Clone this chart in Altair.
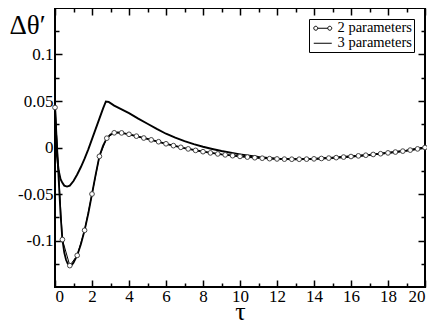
import altair as alt
import pandas as pd

SERIES_2 = "2 parameters"
SERIES_3 = "3 parameters"

# "2 parameters" series (circles)
t_circ = [0.0, 0.4, 0.8, 1.2, 1.6, 2.0, 2.4, 2.8, 3.2, 3.6, 4.0, 4.4, 4.8, 5.2, 5.6,
          6.0, 6.4, 6.8, 7.2, 7.6, 8.0, 8.4, 8.8, 9.2, 9.6, 10.0, 10.4, 10.8, 11.2,
          11.6, 12.0, 12.4, 12.8, 13.2, 13.6, 14.0, 14.4, 14.8, 15.2, 15.6, 16.0,
          16.4, 16.8, 17.2, 17.6, 18.0, 18.4, 18.8, 19.2, 19.6, 20.0]
v_circ = [0.043, -0.099, -0.127, -0.116, -0.089, -0.050, -0.0095, 0.0100, 0.0158,
          0.0157, 0.0142, 0.0122, 0.0102, 0.0082, 0.0062, 0.0040, 0.0020, 0.0002,
          -0.0015, -0.0031, -0.0045, -0.0058, -0.0069, -0.0079, -0.0088, -0.0096,
          -0.0103, -0.0110, -0.0115, -0.0120, -0.0123, -0.0125, -0.0126, -0.0126,
          -0.0125, -0.0122, -0.0118, -0.0114, -0.0109, -0.0103, -0.0097, -0.0090,
          -0.0083, -0.0075, -0.0067, -0.0058, -0.0049, -0.0039, -0.0028, -0.0015, 0.0]

# "3 parameters" upper curve
t_up = [0.0, 0.1, 0.2, 0.3, 0.4, 0.5, 0.65, 0.8, 1.0, 1.2, 1.4, 1.6, 1.8, 2.0, 2.2,
        2.4, 2.6, 2.75, 2.9, 3.2, 3.6, 4.0, 4.5, 5.0, 5.5, 6.0, 6.5, 7.0, 7.5, 8.0,
        8.5, 9.0, 9.5, 10.0, 10.5, 11.0, 11.5, 12.0, 12.5, 13.0, 14.0, 15.0, 16.0,
        17.0, 18.0, 19.0, 20.0]
v_up = [0.045, -0.008, -0.025, -0.034, -0.038, -0.041, -0.042, -0.041, -0.036,
        -0.029, -0.021, -0.012, -0.002, 0.009, 0.020, 0.031, 0.042, 0.0495, 0.049,
        0.045, 0.041, 0.037, 0.031, 0.0255, 0.020, 0.0148, 0.0105, 0.0068, 0.0036,
        0.0008, -0.0016, -0.0038, -0.0057, -0.0074, -0.0089, -0.0102, -0.0112,
        -0.0120, -0.0124, -0.0126, -0.0122, -0.0111, -0.0097, -0.0079, -0.0058,
        -0.0033, 0.0]

# "3 parameters" lower curve
t_low = [0.0, 0.1, 0.2, 0.3, 0.4, 0.5, 0.6, 0.7, 0.8, 0.9, 1.0, 1.2, 1.4, 1.6, 1.8,
         2.0, 2.2, 2.4, 2.6, 2.8, 3.0, 3.2, 3.4, 3.6, 4.0, 5.0, 6.0, 7.0, 8.0, 9.0,
         10.0, 11.0, 12.0, 13.0, 14.0, 15.0, 16.0, 17.0, 18.0, 19.0, 20.0]
v_low = [0.043, 0.005, -0.035, -0.072, -0.099, -0.113, -0.121, -0.1255, -0.127,
         -0.1265, -0.124, -0.116, -0.104, -0.089, -0.071, -0.050, -0.029, -0.0095,
         0.002, 0.010, 0.014, 0.0158, 0.0162, 0.0157, 0.0142, 0.0092, 0.0040,
         -0.0006, -0.0045, -0.0074, -0.0096, -0.0112, -0.0123, -0.0126, -0.0122,
         -0.0112, -0.0097, -0.0079, -0.0058, -0.0033, 0.0]

x_major = [0, 2, 4, 6, 8, 10, 12, 14, 16, 18, 20]
x_minor = [1, 3, 5, 7, 9, 11, 13, 15, 17, 19]
y_major = [-0.1, -0.05, 0, 0.05, 0.1]
y_minor = [-0.125, -0.075, -0.025, 0.025, 0.075, 0.125]

df_circ = pd.DataFrame({"t": t_circ, "v": v_circ, "series": SERIES_2})
df_up = pd.DataFrame({"t": t_up, "v": v_up, "series": SERIES_3})
df_low = pd.DataFrame({"t": t_low, "v": v_low, "series": SERIES_3})

FONT = "'Liberation Serif', 'DejaVu Serif', serif"
xs = alt.Scale(domain=[0, 20], nice=False, zero=False)
ys = alt.Scale(domain=[-0.15, 0.15], nice=False, zero=False)

MAJ, MIN = 7, 4


def axis(orient, values, size, labels=False, **kw):
    return alt.Axis(orient=orient, values=values, tickSize=size, offset=-size,
                    labels=labels, domain=False, grid=False, ticks=True,
                    tickColor="black", tickWidth=1.5, **kw)


ax_bottom = axis("bottom", x_major, MAJ, labels=True, format="d",
                 labelFont=FONT, labelFontSize=17, labelPadding=1, labelColor="black",
                 title="τ", titleFont=FONT, titleFontSize=26, titleFontWeight="normal",
                 titleColor="black", titleBaseline="alphabetic", titleY=39)
ax_left = axis("left", y_major, MAJ, labels=True,
               labelExpr="datum.value < 0 ? '-' + format(-datum.value, '.2~f') : format(datum.value, '.2~f')",
               labelFont=FONT, labelFontSize=17, labelPadding=2, labelColor="black",
               title="Δθ′", titleFont=FONT, titleFontSize=27, titleFontWeight="normal",
               titleColor="black", titleAngle=0, titleAlign="left",
               titleBaseline="alphabetic", titleX=-53, titleY=25)

SYM2 = ("M-0.111,0A0.444,0.444 0 1,0 -1,0A0.444,0.444 0 1,0 -0.111,0"
        "M-0.111,0L2.111,0"
        "M3,0A0.444,0.444 0 1,0 2.111,0A0.444,0.444 0 1,0 3,0")
SYM3 = "M-1,0L3,0"

color = alt.Color(
    "series:N",
    scale=alt.Scale(domain=[SERIES_2, SERIES_3], range=["black", "black"]),
    legend=alt.Legend(
        orient="none", legendX=254, legendY=11, title=None,
        strokeColor="black", fillColor="white", padding=2, rowPadding=0,
        symbolSize=81, labelOffset=12, labelFont=FONT, labelFontSize=14.5,
        labelColor="black", symbolStrokeWidth=1, symbolStrokeColor="black",
        cornerRadius=0,
        symbolType={"expr": f"datum.value === '{SERIES_2}' ? '{SYM2}' : '{SYM3}'"},
    ),
)

upper = alt.Chart(df_up).mark_line(strokeWidth=1.9).encode(
    x=alt.X("t:Q", scale=xs, axis=ax_bottom),
    y=alt.Y("v:Q", scale=ys, axis=ax_left),
    color=color,
)

lower = alt.Chart(df_low).mark_line(strokeWidth=1.8).encode(
    x=alt.X("t:Q", scale=xs, axis=axis("bottom", x_minor, MIN, title=None)),
    y=alt.Y("v:Q", scale=ys, axis=axis("left", y_minor, MIN, title=None)),
    color=color,
)

circ_line = alt.Chart(df_circ).mark_line(strokeWidth=1).encode(
    x=alt.X("t:Q", scale=xs, axis=axis("top", x_major, MAJ, title=None)),
    y=alt.Y("v:Q", scale=ys, axis=axis("right", y_major, MAJ, title=None)),
    color=color,
)

circ_pts = alt.Chart(df_circ).mark_point(
    shape="circle", size=22, filled=True, fill="white", stroke="#444444",
    strokeWidth=1, opacity=1,
).encode(
    x=alt.X("t:Q", scale=xs, axis=axis("top", x_minor, MIN, title=None)),
    y=alt.Y("v:Q", scale=ys, axis=axis("right", y_minor, MIN, title=None)),
)

chart = alt.layer(upper, lower, circ_line, circ_pts).resolve_axis(
    x="independent", y="independent"
).properties(
    width=370, height=279,
    padding={"left": 47, "top": 0, "right": 2, "bottom": 38},
    autosize=alt.AutoSizeParams(type="none"),
    background="white",
).configure(
    font=FONT
).configure_view(stroke="black", strokeWidth=2)

chart.save("out.html", embed_options={"renderer": "svg", "actions": False})
